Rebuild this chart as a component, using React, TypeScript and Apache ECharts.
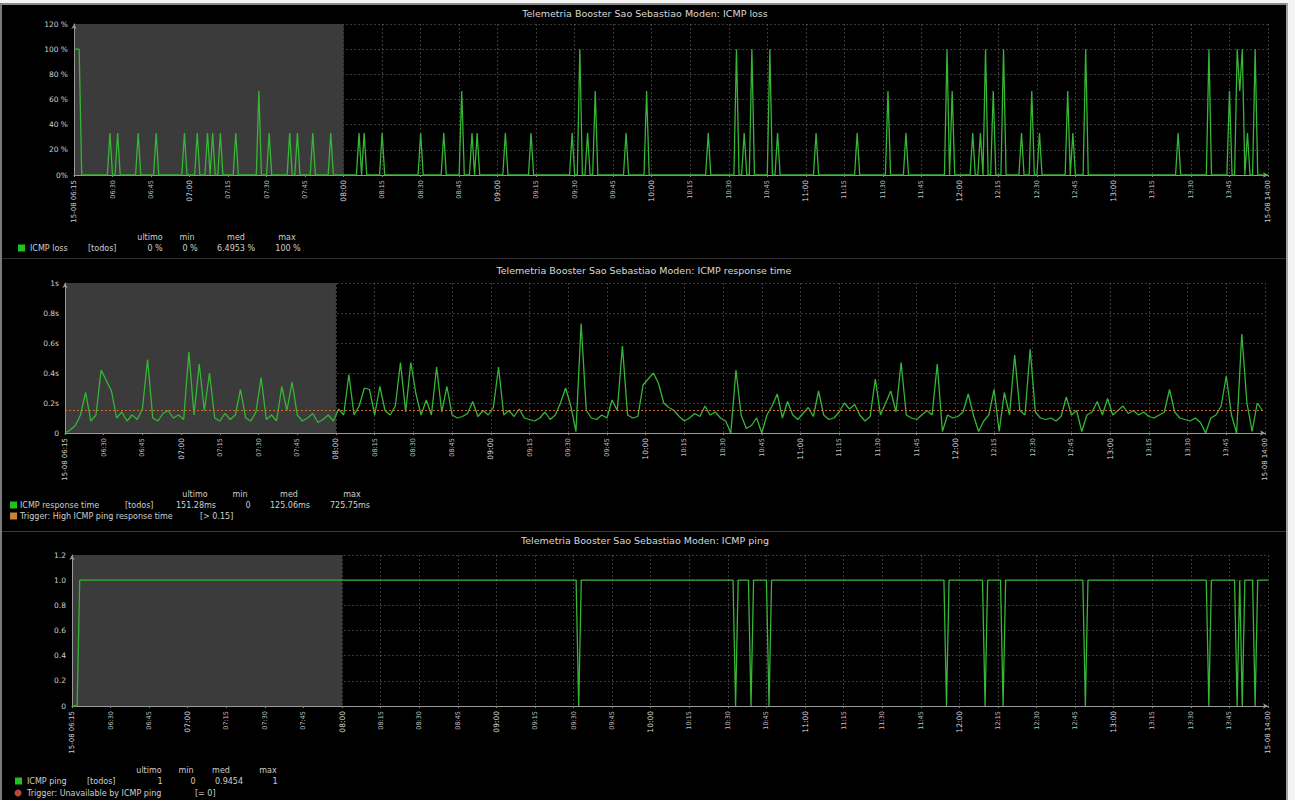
import React, { useEffect, useRef } from "react";
import * as echarts from "echarts";

// ---- time axis ----
const START_HOUR = 6;
const START_MIN = 15;
const SPAN_MIN = 465; // 06:15 -> 14:00
const TICK_MIN = 15;
const WORK_START = 105; // 08:00
const DATE_PREFIX = "15-08";

// ---- ICMP loss (%), non-zero samples only ----
const lossEventTimes = [0, 1, 2, 14, 17, 25, 32, 43, 48, 52, 54, 57, 63, 72, 76, 84, 87, 93, 100, 111, 113, 120, 135, 144, 151, 155, 157, 168, 178, 194, 197, 200, 203, 215, 223, 247, 258, 261, 264, 271, 274, 289, 305, 317, 324, 340, 342, 350, 353, 355, 358, 362, 369, 373, 376, 387, 389, 394, 430, 442, 450, 453, 454, 455, 457, 460];
const lossEventValues = [100, 100, 100,
  33.3, 33.3, 33.3, 33.3, 33.3, 33.3, 33.3, 33.3, 33.3, 33.3,
  66.7, 33.3, 33.3, 33.3, 33.3, 33.3,
  33.3, 33.3, 33.3, 33.3, 33.3,
  66.7, 33.3, 33.3, 33.3, 33.3,
  33.3, 100, 33.3, 66.7, 33.3, 66.7,
  33.3, 100, 33.3, 100, 100, 33.3,
  33.3, 33.3, 66.7, 33.3,
  100, 66.7, 33.3, 33.3, 100, 66.7, 100,
  33.3, 66.7, 33.3, 66.7, 33.3, 100,
  33.3, 100, 66.7, 100, 66.7, 100, 33.3, 100];

// ---- ICMP response time (s), one sample every 2 minutes ----
const RT_STEP = 2;
const rtValues = [
  0.0, 0.02, 0.05, 0.12, 0.27, 0.08, 0.12, 0.42, 0.35, 0.28,
  0.10, 0.14, 0.08, 0.12, 0.09, 0.16, 0.49, 0.10, 0.08, 0.13,
  0.15, 0.10, 0.12, 0.09, 0.54, 0.12, 0.46, 0.15, 0.40, 0.10,
  0.08, 0.13, 0.09, 0.12, 0.29, 0.10, 0.08, 0.14, 0.37, 0.09,
  0.12, 0.08, 0.31, 0.15, 0.34, 0.12, 0.08, 0.10, 0.13, 0.07,
  0.09, 0.12, 0.08, 0.16, 0.12, 0.39, 0.12, 0.18, 0.30, 0.29,
  0.12, 0.31, 0.15, 0.12, 0.18, 0.47, 0.14, 0.47, 0.26, 0.12,
  0.22, 0.12, 0.44, 0.14, 0.31, 0.12, 0.10, 0.11, 0.13, 0.21,
  0.11, 0.15, 0.12, 0.17, 0.44, 0.12, 0.15, 0.11, 0.16, 0.10,
  0.09, 0.08, 0.10, 0.14, 0.09, 0.12, 0.20, 0.30, 0.18, 0.01,
  0.73, 0.15, 0.10, 0.09, 0.12, 0.10, 0.22, 0.15, 0.58, 0.12,
  0.10, 0.11, 0.32, 0.36, 0.40, 0.33, 0.20, 0.17, 0.15, 0.11,
  0.08, 0.10, 0.13, 0.11, 0.18, 0.12, 0.14, 0.10, 0.08, 0.0,
  0.42, 0.12, 0.03, 0.05, 0.10, 0.0, 0.12, 0.18, 0.26, 0.10,
  0.21, 0.12, 0.09, 0.13, 0.17, 0.11, 0.28, 0.12, 0.09, 0.10,
  0.14, 0.20, 0.16, 0.19, 0.12, 0.08, 0.11, 0.36, 0.12, 0.20,
  0.28, 0.14, 0.47, 0.12, 0.10, 0.09, 0.12, 0.15, 0.12, 0.46,
  0.01, 0.12, 0.10, 0.11, 0.14, 0.26, 0.12, 0.01, 0.08, 0.12,
  0.29, 0.01, 0.27, 0.12, 0.52, 0.15, 0.12, 0.56, 0.14, 0.10,
  0.09, 0.10, 0.08, 0.11, 0.24, 0.12, 0.15, 0.01, 0.12, 0.14,
  0.21, 0.12, 0.23, 0.12, 0.15, 0.18, 0.13, 0.15, 0.12, 0.14,
  0.11, 0.10, 0.12, 0.14, 0.29, 0.14, 0.10, 0.09, 0.08, 0.10,
  0.07, 0.0, 0.10, 0.12, 0.18, 0.38, 0.12, 0.0, 0.66, 0.20,
  0.01, 0.20, 0.15,
];
const RT_TRIGGER = 0.15;

// ---- ICMP ping (1 = up), minutes where it was 0 ----
const pingDownTimes = [0, 1, 2, 197, 258, 264, 271, 340, 355, 362, 394, 442, 453, 455, 460];

// ---- texts ----
const TITLE_BASE = "Telemetria Booster Sao Sebastiao Moden: ";
const titles = ["ICMP loss", "ICMP response time", "ICMP ping"];
const legendHeaders = ["ultimo", "min", "med", "max"];
const lossStats = ["0 %", "0 %", "6.4953 %", "100 %"];
const rtStats = ["151.28ms", "0", "125.06ms", "725.75ms"];
const pingStats = ["1", "0", "0.9454", "1"];

const GREEN = "#36b536";
const TEXT = "#cfcfcf";
const FONT = "DejaVu Sans";

function timeLabel(v: number): string {
  const m = START_HOUR * 60 + START_MIN + Math.round(v);
  const hh = String(Math.floor(m / 60)).padStart(2, "0");
  const mm = String(m % 60).padStart(2, "0");
  const s = `${hh}:${mm}`;
  if (v === 0 || v === SPAN_MIN) return `{e|${DATE_PREFIX} ${s}}`;
  return m % 60 === 0 ? `{h|${s}}` : `{n|${s}}`;
}

export default function App() {
  const ref = useRef<HTMLDivElement>(null);
  useEffect(() => {
    document.body.style.margin = "0";
    if (!ref.current) return;
    const chart = echarts.init(ref.current, undefined, { renderer: "svg" });

    const lossMap = new Map<number, number>();
    lossEventTimes.forEach((t, i) => lossMap.set(t, lossEventValues[i]));
    const lossData: number[][] = [];
    for (let t = 0; t <= SPAN_MIN; t++) lossData.push([t, lossMap.get(t) ?? 0]);
    const pingSet = new Set(pingDownTimes);
    const pingData: number[][] = [];
    for (let t = 0; t <= SPAN_MIN; t++) pingData.push([t, pingSet.has(t) ? 0 : 1]);
    const rtData = rtValues.map((v, i) => [i * RT_STEP, v]);

    const grids = [
      { left: 74, top: 24, width: 1194, height: 151 },
      { left: 65, top: 283, width: 1200, height: 150 },
      { left: 72, top: 555, width: 1196, height: 151 },
    ];

    const splitLine = {
      show: true,
      lineStyle: { color: "rgba(150,150,150,0.38)", type: [2, 2] as any, width: 1 },
    };

    const xAxes = grids.map((_, i) => ({
      gridIndex: i,
      type: "value",
      min: 0,
      max: SPAN_MIN,
      interval: TICK_MIN,
      z: 1,
      axisLine: {
        show: true,
        onZero: false,
        lineStyle: { color: "#9a9a9a", width: 1 },
        symbol: ["none", "arrow"],
        symbolSize: [4, 5],
      },
      axisTick: { show: true, length: 2, lineStyle: { color: "#888" } },
      axisLabel: {
        rotate: 90,
        margin: 5,
        color: TEXT,
        fontFamily: FONT,
        formatter: timeLabel,
        rich: {
          n: { fontSize: 6.5, color: "#c0c0c0", fontFamily: FONT },
          h: { fontSize: 7.5, color: "#dcdcdc", fontFamily: FONT },
          e: { fontSize: 7, color: "#d0d0d0", fontFamily: FONT },
        },
      },
      splitLine,
    }));

    const yCommon = {
      type: "value",
      z: 1,
      axisLine: {
        show: true,
        lineStyle: { color: "#9a9a9a", width: 1 },
        symbol: ["none", "arrow"],
        symbolSize: [4, 5],
      },
      axisTick: { show: false },
      splitLine,
    };
    const yAxes = [
      {
        ...yCommon,
        gridIndex: 0,
        min: 0,
        max: 120,
        interval: 20,
        axisLabel: {
          color: TEXT, fontSize: 7.5, fontFamily: FONT, margin: 6,
          formatter: (v: number) => (v === 0 ? "0%" : `${v} %`),
        },
      },
      {
        ...yCommon,
        gridIndex: 1,
        min: 0,
        max: 1,
        interval: 0.2,
        axisLabel: {
          color: TEXT, fontSize: 7.5, fontFamily: FONT, margin: 6,
          formatter: (v: number) => (v === 0 ? "0" : v >= 0.999 ? "1s" : `${v.toFixed(1)}s`),
        },
      },
      {
        ...yCommon,
        gridIndex: 2,
        min: 0,
        max: 1.2,
        interval: 0.2,
        axisLabel: {
          color: TEXT, fontSize: 7.5, fontFamily: FONT, margin: 6,
          formatter: (v: number) => (v === 0 ? "0" : v.toFixed(1)),
        },
      },
    ];

    const shade = (i: number) => ({
      type: "line",
      xAxisIndex: i,
      yAxisIndex: i,
      data: [[0, 0]],
      showSymbol: false,
      lineStyle: { opacity: 0 },
      z: 0,
      silent: true,
      markArea: {
        silent: true,
        itemStyle: { color: "#3b3b3b" },
        data: [[{ xAxis: 0 }, { xAxis: WORK_START }]],
      },
    });

    const lineSeries = (i: number, data: number[][]) => ({
      type: "line",
      xAxisIndex: i,
      yAxisIndex: i,
      data,
      showSymbol: false,
      z: 3,
      lineStyle: { color: GREEN, width: 1.3 },
      itemStyle: { color: GREEN },
    });

    const txt = (x: number, y: number, text: string, align = "left", size = 8, color = TEXT) => ({
      type: "text",
      x,
      y,
      silent: true,
      style: {
        text,
        fill: color,
        font: `${size}px "${FONT}"`,
        textAlign: align,
        textVerticalAlign: "middle",
      },
    });
    const box = (x: number, y: number, color: string) => ({
      type: "rect",
      silent: true,
      shape: { x, y: y - 3.5, width: 7, height: 7 },
      style: { fill: color },
    });
    const dot = (x: number, y: number, color: string) => ({
      type: "circle",
      silent: true,
      shape: { cx: x, cy: y, r: 3.5 },
      style: { fill: color },
    });

    const graphic: any[] = [
      // page frame
      { type: "rect", silent: true, shape: { x: 0, y: 0, width: 1295, height: 3 }, style: { fill: "#f4f4f4" } },
      { type: "rect", silent: true, shape: { x: 0, y: 3, width: 1287, height: 2 }, style: { fill: "#8a8a8a" } },
      { type: "rect", silent: true, shape: { x: 0, y: 3, width: 2, height: 797 }, style: { fill: "#7a7a7a" } },
      { type: "rect", silent: true, shape: { x: 1286, y: 3, width: 2, height: 797 }, style: { fill: "#a0a0a0" } },
      { type: "rect", silent: true, shape: { x: 1288, y: 0, width: 7, height: 800 }, style: { fill: "#f4f4f4" } },
      // separators
      { type: "rect", silent: true, shape: { x: 2, y: 258, width: 1284, height: 1 }, style: { fill: "#2e2e2e" } },
      { type: "rect", silent: true, shape: { x: 2, y: 531, width: 1284, height: 1 }, style: { fill: "#3a3a3a" } },
      // titles
      txt(645, 13, TITLE_BASE + titles[0], "center", 9.5, "#d8d8d8"),
      txt(644, 270, TITLE_BASE + titles[1], "center", 9.5, "#d8d8d8"),
      txt(645, 540, TITLE_BASE + titles[2], "center", 9.5, "#d8d8d8"),
      // legend 1
      txt(150, 237, legendHeaders[0], "center"),
      txt(187, 237, legendHeaders[1], "center"),
      txt(236, 237, legendHeaders[2], "center"),
      txt(287, 237, legendHeaders[3], "center"),
      box(18, 248, "#1fc01f"),
      txt(30, 248, titles[0]),
      txt(88, 248, "[todos]"),
      txt(155, 248, lossStats[0], "center"),
      txt(190, 248, lossStats[1], "center"),
      txt(236, 248, lossStats[2], "center"),
      txt(288, 248, lossStats[3], "center"),
      // legend 2
      txt(195, 494, legendHeaders[0], "center"),
      txt(240, 494, legendHeaders[1], "center"),
      txt(289, 494, legendHeaders[2], "center"),
      txt(352, 494, legendHeaders[3], "center"),
      box(10, 505, "#1fc01f"),
      txt(20, 505, titles[1]),
      txt(125, 505, "[todos]"),
      txt(196, 505, rtStats[0], "center"),
      txt(248, 505, rtStats[1], "center"),
      txt(290, 505, rtStats[2], "center"),
      txt(350, 505, rtStats[3], "center"),
      box(10, 516, "#c8823c"),
      txt(20, 516, "Trigger: High ICMP ping response time"),
      txt(200, 516, "[> 0.15]"),
      // legend 3
      txt(149, 770, legendHeaders[0], "center"),
      txt(186, 770, legendHeaders[1], "center"),
      txt(221, 770, legendHeaders[2], "center"),
      txt(268, 770, legendHeaders[3], "center"),
      box(15, 781, "#1fc01f"),
      txt(27, 781, titles[2]),
      txt(87, 781, "[todos]"),
      txt(160, 781, pingStats[0], "center"),
      txt(193, 781, pingStats[1], "center"),
      txt(229, 781, pingStats[2], "center"),
      txt(275, 781, pingStats[3], "center"),
      dot(18, 793, "#b8463c"),
      txt(27, 793, "Trigger: Unavailable by ICMP ping"),
      txt(195, 793, "[= 0]"),
    ];

    const rtSeries: any = lineSeries(1, rtData);
    rtSeries.markLine = {
      silent: true,
      symbol: ["none", "none"],
      label: { show: false },
      lineStyle: { color: "#d2692d", type: [2, 2], width: 1 },
      data: [{ yAxis: RT_TRIGGER }],
    };

    chart.setOption({
      animation: false,
      backgroundColor: "#000",
      grid: grids,
      xAxis: xAxes,
      yAxis: yAxes,
      series: [
        shade(0), shade(1), shade(2),
        lineSeries(0, lossData),
        rtSeries,
        lineSeries(2, pingData),
      ],
      graphic,
    });
    return () => chart.dispose();
  }, []);
  return <div ref={ref} style={{ width: 1295, height: 800 }} />;
}
